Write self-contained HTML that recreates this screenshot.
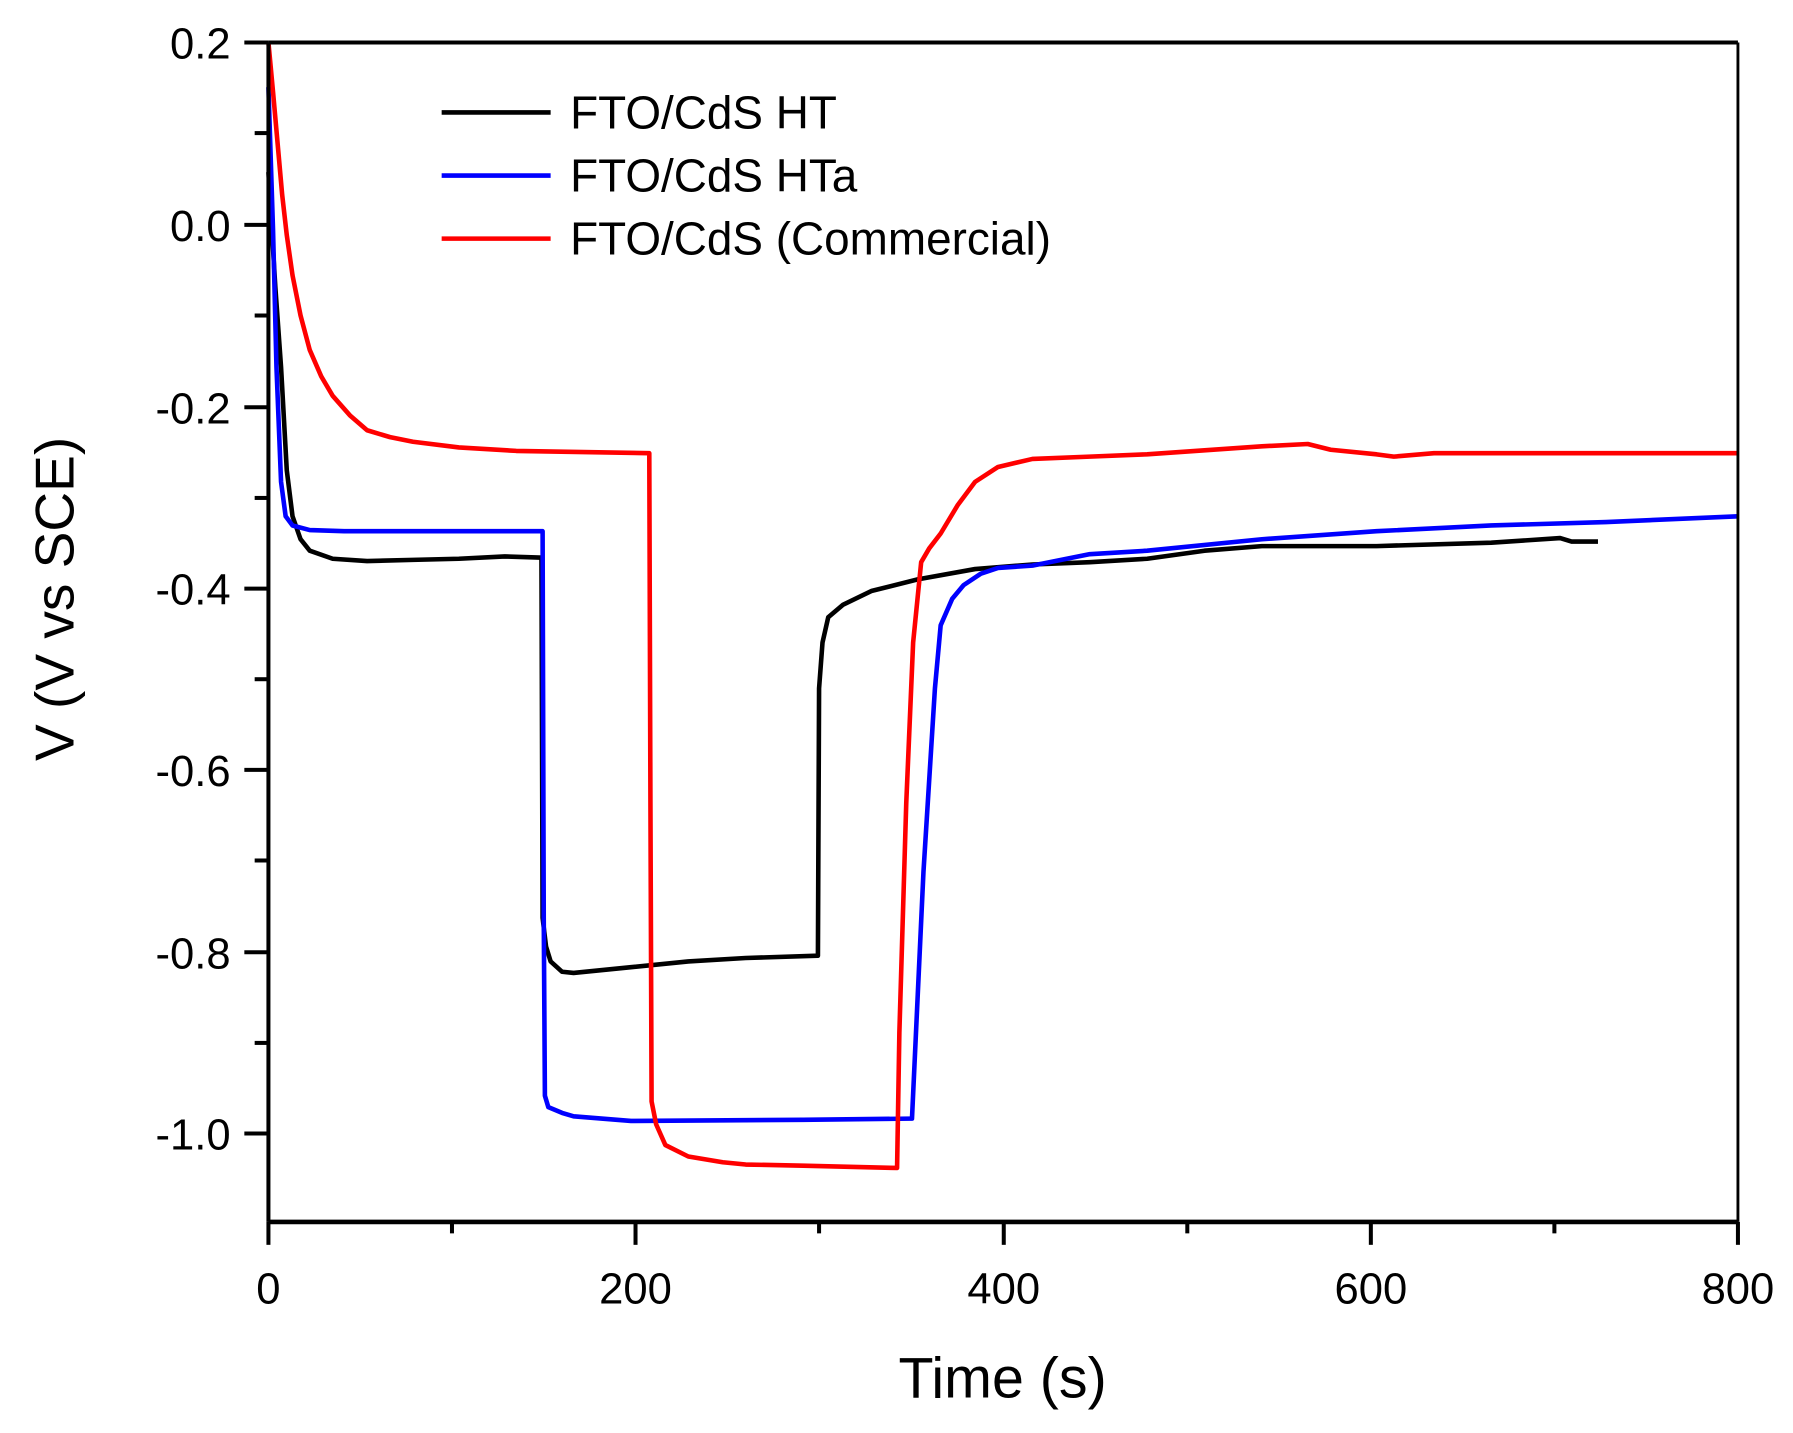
<!DOCTYPE html>
<html><head><meta charset="utf-8"><style>html,body{margin:0;padding:0;background:#fff}svg{display:block}</style></head>
<body>
<svg width="1793" height="1433" viewBox="0 0 1563 1249" preserveAspectRatio="none" xmlns="http://www.w3.org/2000/svg" font-family="Liberation Sans, Arial, sans-serif">
<rect width="1563" height="1249" fill="#fff"/>
<g fill="none" stroke-width="4" stroke-linejoin="round">
<polyline stroke="#000" points="234,150 240,250 245,320 250,410 255,450 262,470 270,480 290,487 320,489 360,488 400,487 440,485 470,486 472,486 473,800 476,825 480,838 490,847 500,848 550,843 600,838 650,835 713,833 714,600 717,560 722,538 735,527 760,515 800,505 850,496 900,492 950,490 1000,487 1050,480 1100,476 1200,476 1300,473 1360,469 1370,472 1393,472"/>
<polyline stroke="#0000ff" points="234,76 238,200 241,320 245,420 249,450 255,458 270,462 300,463 473,463 474,800 475,955 478,965 490,970 500,973 550,977 700,976 793,975 795,975 805,760 815,600 820,545 830,522 840,510 855,500 870,495 900,493 950,483 1000,480 1100,470 1200,463 1300,458 1400,455 1515,450"/>
<polyline stroke="#ff0000" points="234,37 238,80 242,125 246,170 250,205 255,240 262,275 270,305 280,328 290,345 305,362 320,375 340,381 360,385 400,390 450,393 566,395 567,700 568,960 572,980 580,998 600,1008 630,1013 650,1015 700,1016 782,1018 784,900 790,700 796,560 803,490 810,478 820,465 835,440 850,420 870,407 900,400 950,398 1000,396 1100,389 1140,387 1160,392 1200,396 1215,398 1250,395 1400,395 1515,395"/>
</g>
<g stroke="#000">
<line x1="234" y1="37" x2="1515" y2="37" stroke-width="3.5"/>
<line x1="1515" y1="37" x2="1515" y2="1065" stroke-width="2.5"/>
<line x1="234" y1="1065" x2="1515" y2="1065" stroke-width="4"/>
<line x1="234" y1="37" x2="234" y2="1065" stroke-width="3.5"/>
<g stroke-width="3.5">
<line x1="213" y1="37" x2="234" y2="37"/><line x1="213" y1="196" x2="234" y2="196"/><line x1="213" y1="355" x2="234" y2="355"/><line x1="213" y1="513" x2="234" y2="513"/><line x1="213" y1="671" x2="234" y2="671"/><line x1="213" y1="830" x2="234" y2="830"/><line x1="213" y1="988" x2="234" y2="988"/>
<line x1="222" y1="116" x2="234" y2="116"/><line x1="222" y1="275" x2="234" y2="275"/><line x1="222" y1="434" x2="234" y2="434"/><line x1="222" y1="592" x2="234" y2="592"/><line x1="222" y1="750" x2="234" y2="750"/><line x1="222" y1="909" x2="234" y2="909"/>
<line x1="234" y1="1065" x2="234" y2="1085"/><line x1="554" y1="1065" x2="554" y2="1085"/><line x1="875" y1="1065" x2="875" y2="1085"/><line x1="1195" y1="1065" x2="1195" y2="1085"/><line x1="1515" y1="1065" x2="1515" y2="1085"/>
<line x1="394" y1="1065" x2="394" y2="1075"/><line x1="714" y1="1065" x2="714" y2="1075"/><line x1="1035" y1="1065" x2="1035" y2="1075"/><line x1="1355" y1="1065" x2="1355" y2="1075"/>
</g>
<line x1="385" y1="98" x2="480" y2="98" stroke-width="4"/>
<line x1="385" y1="153" x2="480" y2="153" stroke="#0000ff" stroke-width="4"/>
<line x1="385" y1="208" x2="480" y2="208" stroke="#ff0000" stroke-width="4"/>
</g>
<g font-size="38" text-anchor="end" fill="#000">
<text x="201" y="51">0.2</text><text x="201" y="210">0.0</text><text x="201" y="369">-0.2</text><text x="201" y="527">-0.4</text><text x="201" y="685">-0.6</text><text x="201" y="844">-0.8</text><text x="201" y="1002">-1.0</text>
</g>
<g font-size="38" text-anchor="middle">
<text x="234" y="1136">0</text><text x="554" y="1136">200</text><text x="875" y="1136">400</text><text x="1195" y="1136">600</text><text x="1515" y="1136">800</text>
</g>
<g font-size="40">
<text x="497" y="112">FTO/CdS HT</text><text x="497" y="167">FTO/CdS HTa</text><text x="497" y="222">FTO/CdS (Commercial)</text>
</g>
<text x="874" y="1218" font-size="50" text-anchor="middle">Time (s)</text>
<text transform="translate(64,522) rotate(-90)" font-size="48" text-anchor="middle">V (V vs SCE)</text>
</svg>
</body></html>
